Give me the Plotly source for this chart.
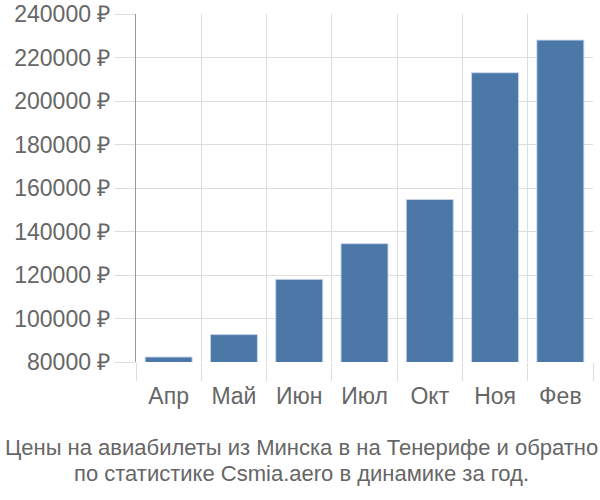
import plotly.graph_objects as go

months = ["Апр", "Май", "Июн", "Июл", "Окт", "Ноя", "Фев"]
prices = [82300, 92600, 118000, 134400, 154700, 213000, 228000]
y_ticks = [80000, 100000, 120000, 140000, 160000, 180000, 200000, 220000, 240000]
y_labels = [f"{v} ₽" for v in y_ticks]
title_lines = ["Цены на авиабилеты из Минска в на Тенерифе и обратно",
               "по статистике Csmia.aero в динамике за год."]

FONT = "Liberation Sans"
TXT = "#666666"
GRID = "#dddddd"

fig = go.Figure()
fig.add_trace(go.Bar(
    x=months, y=prices,
    marker=dict(color="#4c78a8", line=dict(color="rgba(200,215,235,0.9)", width=1)),
    width=0.72,
))

# plot area: top 14px, bottom 362px -> height 348
ann = []
for line, ypx in zip(title_lines, [447, 473]):
    ann.append(dict(
        text=line, xref="paper", yref="paper",
        x=(301.5 - 136) / 457, y=(362 - ypx) / 348,
        xanchor="center", yanchor="middle",
        showarrow=False,
        font=dict(family=FONT, size=22, color=TXT),
    ))

fig.update_layout(
    width=600, height=500,
    margin=dict(l=136, r=7, t=14, b=138, autoexpand=False),
    plot_bgcolor="white", paper_bgcolor="white",
    showlegend=False,
    font=dict(family=FONT, size=21, color=TXT),
    xaxis=dict(
        type="category", tickson="boundaries", automargin=False,
        showgrid=True, gridcolor=GRID, gridwidth=1,
        ticks="outside", ticklen=18, tickcolor=GRID, tickwidth=1,
        tickfont=dict(family=FONT, size=23, color=TXT),
        ticklabelstandoff=18,
        showline=False, zeroline=False,
    ),
    yaxis=dict(
        range=[80000, 240000], automargin=False,
        tickvals=y_ticks, ticktext=y_labels,
        showgrid=True, gridcolor=GRID, gridwidth=1,
        ticks="outside", ticklen=20, tickcolor=GRID, tickwidth=1,
        tickfont=dict(family=FONT, size=23, color=TXT),
        ticklabelstandoff=0,
        showline=True, linecolor="#999999", linewidth=1,
        zeroline=False,
    ),
    annotations=ann,
)

fig.write_html("out.html")
